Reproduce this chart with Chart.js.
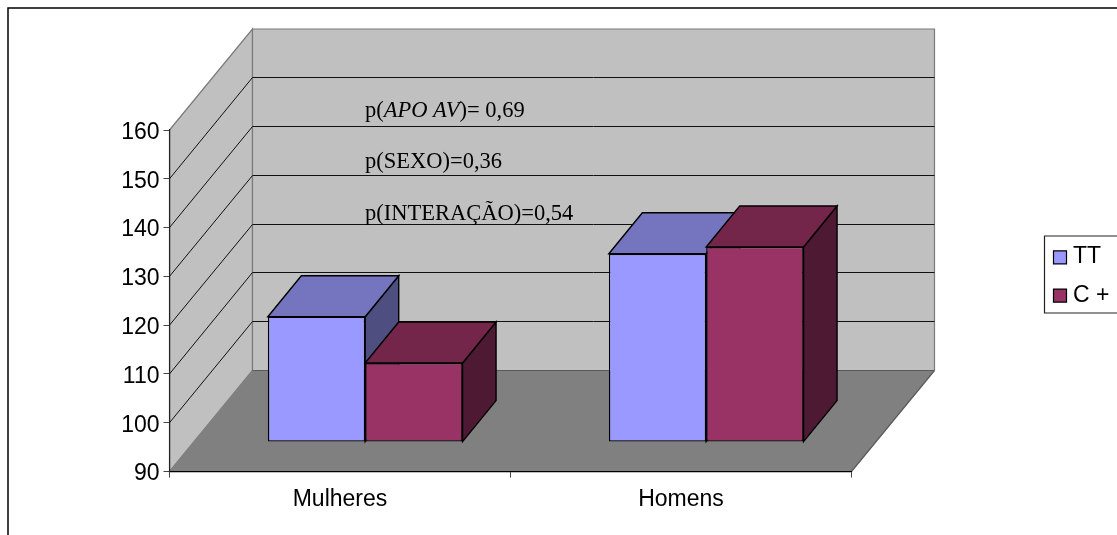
<!DOCTYPE html>
<html>
<head>
<meta charset="utf-8">
<style>
html,body{margin:0;padding:0;background:#fff;}
#wrap{position:relative;width:1117px;height:535px;}
canvas{display:block;}
</style>
<script src="https://cdn.jsdelivr.net/npm/chart.js@4/dist/chart.umd.min.js"></script>
</head>
<body>
<div id="wrap"><canvas id="c" width="1117" height="535"></canvas></div>
<script>
const categories = ['Mulheres', 'Homens'];
const seriesNames = ['TT', 'C +'];
const ttValues = [115.7, 128.6];
const cPlusValues = [106.2, 130.0];
const yMin = 90, yMax = 160, yStep = 10;
const notes = [
  { runs: [['p(', false], ['APO AV', true], [')= 0,69', false]], x: 365, y: 116.5 },
  { runs: [['p(SEXO)=0,36', false]], x: 365, y: 168 },
  { runs: [['p(INTERAÇÃO)=0,54', false]], x: 365, y: 220 }
];

const FRONT = ['#9999FF', '#993366'];
const TOP = ['#7575BF', '#732649'];
const SIDE = ['#4E4E80', '#4D1933'];
const WALL = '#C0C0C0', FLOOR = '#808080', EDGE = '#7A7A7A';
// Projection of the box depth onto the page
const DEPTH = { x: 83, y: -101 };
const BAR_SHIFT = { x: 25.2, y: -29.4 };
const BAR_DEPTH = { x: 33.5, y: -41 };

function poly(ctx, pts, fill, stroke, lw) {
  ctx.beginPath();
  pts.forEach((p, i) => i ? ctx.lineTo(p[0], p[1]) : ctx.moveTo(p[0], p[1]));
  ctx.closePath();
  if (fill) { ctx.fillStyle = fill; ctx.fill(); }
  if (stroke) { ctx.strokeStyle = stroke; ctx.lineWidth = lw || 1; ctx.stroke(); }
}

const box3d = {
  id: 'box3d',
  beforeDraw(chart) {
    const { ctx, chartArea: a, scales } = chart;
    const d = DEPTH;
    ctx.save();
    // side wall, back wall, floor
    poly(ctx, [[a.left, a.top], [a.left + d.x, a.top + d.y], [a.left + d.x, a.bottom + d.y], [a.left, a.bottom]], WALL, EDGE, 1.2);
    poly(ctx, [[a.left + d.x, a.top + d.y], [a.right + d.x, a.top + d.y], [a.right + d.x, a.bottom + d.y], [a.left + d.x, a.bottom + d.y]], WALL, EDGE, 1.2);
    poly(ctx, [[a.left, a.bottom], [a.left + d.x, a.bottom + d.y], [a.right + d.x, a.bottom + d.y], [a.right, a.bottom]], FLOOR, null);
    ctx.strokeStyle = '#5A5A5A';
    ctx.lineWidth = 1.2;
    ctx.beginPath();
    ctx.moveTo(a.left + d.x, a.bottom + d.y);
    ctx.lineTo(a.right + d.x, a.bottom + d.y);
    ctx.moveTo(a.right + d.x, a.bottom + d.y);
    ctx.lineTo(a.right, a.bottom);
    ctx.stroke();
    // gridlines wrap from the side wall onto the back wall
    const ys = scales.y;
    ctx.strokeStyle = '#111';
    ctx.lineWidth = 1;
    ys.ticks.forEach(t => {
      if (t.value === yMin || t.value === yMax) return;
      const py = ys.getPixelForValue(t.value);
      const backY = Math.floor(py + d.y) + 0.5;
      ctx.beginPath();
      ctx.moveTo(a.left, py);
      ctx.lineTo(a.left + d.x, backY);
      ctx.lineTo(a.right + d.x, backY);
      ctx.stroke();
    });
    ctx.restore();
  },
  // Painted by hand so that the first series sits behind the second, each with its box faces
  beforeDatasetsDraw(chart) {
    const ctx = chart.ctx, b = BAR_DEPTH;
    ctx.save();
    ctx.translate(BAR_SHIFT.x, BAR_SHIFT.y);
    [0, 1].forEach(i => {
      const meta = chart.getDatasetMeta(i);
      meta.data.forEach(el => {
        const p = el.getProps(['x', 'y', 'base', 'width'], true);
        const l = p.x - p.width / 2, r = p.x + p.width / 2;
        poly(ctx, [[r, p.y], [r + b.x, p.y + b.y], [r + b.x, p.base + b.y], [r, p.base]], SIDE[i], '#000', 1.4);
        poly(ctx, [[l, p.y], [l + b.x, p.y + b.y], [r + b.x, p.y + b.y], [r, p.y]], TOP[i], '#000', 1.4);
      });
      meta.controller.draw();
    });
    ctx.restore();
    return false;
  },
  afterDraw(chart) {
    const ctx = chart.ctx;
    ctx.save();
    // annotations
    ctx.fillStyle = '#000';
    ctx.textBaseline = 'alphabetic';
    ctx.textAlign = 'left';
    notes.forEach(n => {
      let x = n.x;
      n.runs.forEach(([txt, it]) => {
        ctx.font = (it ? 'italic ' : '') + '22.5px "Liberation Serif"';
        ctx.fillText(txt, x, n.y);
        x += ctx.measureText(txt).width;
      });
    });
    // outer frame
    ctx.strokeStyle = '#000';
    ctx.lineWidth = 1.5;
    ctx.beginPath();
    ctx.moveTo(8, 535); ctx.lineTo(8, 8); ctx.lineTo(1117, 8);
    ctx.stroke();
    // legend
    ctx.lineWidth = 1.2;
    ctx.strokeStyle = '#222';
    ctx.beginPath();
    ctx.moveTo(1117, 236); ctx.lineTo(1044.5, 236); ctx.lineTo(1044.5, 313); ctx.lineTo(1117, 313);
    ctx.stroke();
    const swatchY = [257.3, 295.6];
    const textY = [263, 301.5];
    ctx.font = '23px "Liberation Sans"';
    seriesNames.forEach((name, i) => {
      const s = swatchY[i];
      poly(ctx, [[1053.5, s - 6.5], [1066.5, s - 6.5], [1066.5, s + 6.5], [1053.5, s + 6.5]], FRONT[i], '#000', 1.2);
      ctx.fillStyle = '#000';
      ctx.fillText(name, 1073, textY[i]);
    });
    ctx.restore();
  }
};

new Chart(document.getElementById('c'), {
  type: 'bar',
  data: {
    labels: categories,
    datasets: [
      { label: seriesNames[0], data: ttValues, backgroundColor: FRONT[0] },
      { label: seriesNames[1], data: cPlusValues, backgroundColor: FRONT[1] }
    ]
  },
  options: {
    responsive: false,
    animation: false,
    layout: { padding: { left: 0, top: 130, right: 265.5, bottom: 0 } },
    datasets: { bar: { base: yMin, barPercentage: 1, categoryPercentage: 0.571, borderColor: '#000', borderWidth: 1.4, borderSkipped: false, clip: false } },
    plugins: { legend: { display: false }, tooltip: { enabled: false } },
    scales: {
      x: {
        afterFit(s) { s.height = 63.5; },
        grid: { drawOnChartArea: false, drawTicks: true, tickLength: 6, color: '#444' },
        border: { color: '#000', width: 1.2 },
        ticks: { color: '#000', font: { family: 'Liberation Sans', size: 23 }, padding: 8, maxRotation: 0 }
      },
      y: {
        min: yMin, max: yMax,
        afterFit(s) { s.width = 169.5; },
        grid: { drawOnChartArea: false, drawTicks: true, tickLength: 6, color: '#444' },
        border: { color: '#222', width: 1.2 },
        ticks: {
          stepSize: yStep, color: '#000', padding: 4,
          // a short blank first line nudges each label down to sit level with its tick
          font: { family: 'Liberation Sans', size: 23, lineHeight: '5px' },
          callback: v => ['', String(v)]
        }
      }
    }
  },
  plugins: [box3d]
});
</script>
</body>
</html>
